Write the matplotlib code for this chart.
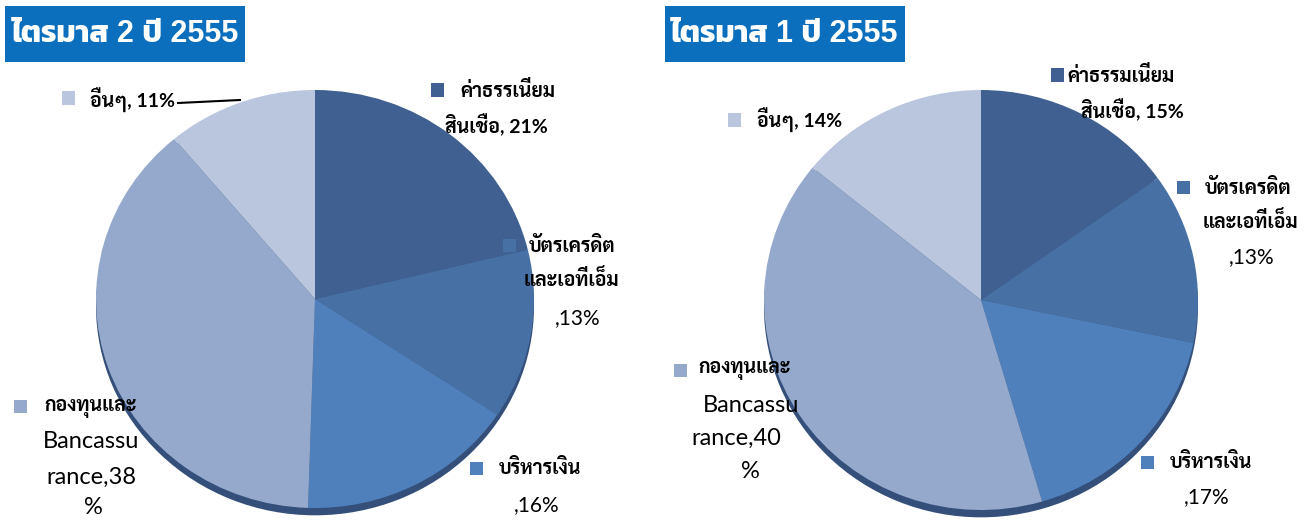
import matplotlib
matplotlib.use("Agg")
import matplotlib.pyplot as plt
from matplotlib.patches import Rectangle
from matplotlib.lines import Line2D

# ---------------------------------------------------------------------------
# Data (clockwise from 12 o'clock)
# ---------------------------------------------------------------------------
SLICE_COLORS = ["#3f6090", "#4770a5", "#4f80bb", "#95a9cc", "#b9c6de"]

q2_title  = "ไตรมาส 2 ปี 2555"
q2_values = [21, 13, 16, 38, 11]
q2_labels = [
    ["ค่าธรรเนียม", "สินเชื่อ, {v}%"],
    ["บัตรเครดิต", "และเอทีเอ็ม", ",{v}%"],
    ["บริหารเงิน", ",{v}%"],
    ["กองทุนและ", "Bancassu", "rance,{v}", "%"],
    ["อื่นๆ, {v}%"],
]

q1_title  = "ไตรมาส 1 ปี 2555"
q1_values = [15, 13, 17, 40, 14]
q1_labels = [
    ["ค่าธรรมเนียม", "สินเชื่อ, {v}%"],
    ["บัตรเครดิต", "และเอทีเอ็ม", ",{v}%"],
    ["บริหารเงิน", ",{v}%"],
    ["กองทุนและ", "Bancassu", "rance,{v}", "%"],
    ["อื่นๆ, {v}%"],
]

# ---------------------------------------------------------------------------
# Layout (pixels from top-left of a 1315x520 canvas)
# ---------------------------------------------------------------------------
W, H = 1315, 520
THAI_LBL = ["Lato", "Sarabun"]
LATIN_LBL = ["Lato", "Sarabun"]
TITLE_FONT = ["Liberation Sans", "Kanit"]

# per chart: pie box (cx, cy, rx, ry), title box (x0, y0, x1, y1),
# per slice: square (x, y) and list of line anchors (x_center, y)
LEFT = dict(
    pie=(315, 299, 219, 209),
    title=(5, 6, 245, 62),
    squares=[(437, 90), (509, 245), (477, 468), (20, 406), (68, 98)],
    lines=[
        [(508, 90), (496, 125)],
        [(572, 245), (571, 279), (578, 318)],
        [(540, 468), (537, 505)],
        [(91, 408), (91, 442), (91, 477), (93, 508)],
        [(132, 100)],
    ],
    leader=((178, 103), (240, 100)),
)
RIGHT = dict(
    pie=(981, 300, 217, 210),
    title=(665, 6, 905, 62),
    squares=[(1057, 75), (1183, 187), (1147, 462), (680, 370), (735, 120)],
    lines=[
        [(1121, 75), (1132, 110)],
        [(1248, 187), (1250, 221), (1252, 257)],
        [(1211, 462), (1207, 497)],
        [(745, 370), (751, 405), (736, 438), (750, 471)],
        [(800, 120)],
    ],
    leader=None,
)


def fx(x):
    return x / W


def fy(y):
    return 1 - y / H


def draw_chart(fig, values, labels, title, lay):
    cx, cy, rx, ry = lay["pie"]
    ax = fig.add_axes([fx(cx - rx), fy(cy + ry), 2 * rx / W, 2 * ry / H])

    # shadow under the pie
    ax.pie([1], colors=["#34507a"], radius=1.0, center=(0, -0.035),
           wedgeprops=dict(linewidth=0), frame=False)
    ax.pie(values, colors=SLICE_COLORS, startangle=90, counterclock=False,
           wedgeprops=dict(linewidth=0), frame=False)
    ax.set_xlim(-1, 1)
    ax.set_ylim(-1, 1)
    ax.set_aspect("auto")
    ax.axis("off")

    # title box
    x0, y0, x1, y1 = lay["title"]
    fig.patches.append(Rectangle((fx(x0), fy(y1)), (x1 - x0) / W, (y1 - y0) / H,
                                 transform=fig.transFigure, facecolor="#0b6fbd",
                                 edgecolor="none"))
    fig.text(fx((x0 + x1) / 2), fy((y0 + y1) / 2), title, color="white",
             fontsize=22, weight="bold", family=TITLE_FONT,
             ha="center", va="center")

    # labels with colour squares
    sq = 13
    for i, v in enumerate(values):
        sx, sy = lay["squares"][i]
        fig.patches.append(Rectangle((fx(sx - sq / 2), fy(sy + sq / 2)), sq / W, sq / H,
                                     transform=fig.transFigure,
                                     facecolor=SLICE_COLORS[i], edgecolor="none"))
        for txt, (tx, ty) in zip(labels[i], lay["lines"][i]):
            s = txt.format(v=v)
            if s.startswith("Banc") or s.startswith("rance") or s == "%":
                fig.text(fx(tx), fy(ty), s, fontsize=17, family=LATIN_LBL,
                         ha="center", va="center", color="black")
            elif s.startswith(","):
                fig.text(fx(tx), fy(ty), s, fontsize=15, family=LATIN_LBL,
                         ha="center", va="center", color="black")
            else:
                fig.text(fx(tx), fy(ty), s, fontsize=14, weight="bold",
                         family=THAI_LBL, ha="center", va="center", color="black")

    if lay["leader"]:
        (ax0, ay0), (ax1, ay1) = lay["leader"]
        fig.lines.append(Line2D([fx(ax0), fx(ax1)], [fy(ay0), fy(ay1)],
                                transform=fig.transFigure, color="black", linewidth=1.5))


fig = plt.figure(figsize=(W / 100, H / 100), dpi=100)
fig.patch.set_facecolor("white")
draw_chart(fig, q2_values, q2_labels, q2_title, LEFT)
draw_chart(fig, q1_values, q1_labels, q1_title, RIGHT)
fig.savefig("out.png", dpi=100)
